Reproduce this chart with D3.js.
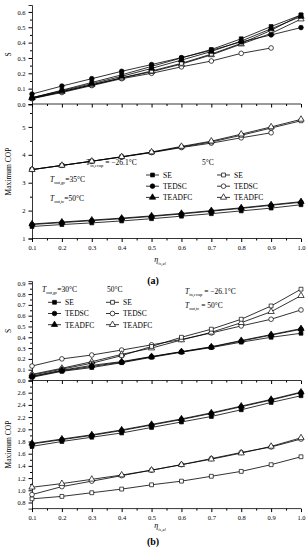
<!DOCTYPE html>
<html>
<head>
<meta charset="utf-8">
<script src="https://cdn.jsdelivr.net/npm/d3@7"></script>
<style>
  body { margin: 0; background: #fff; }
  svg { display: block; font-family: "Liberation Serif", "DejaVu Serif", serif; }
</style>
</head>
<body>
<svg id="chart" width="307" height="550"></svg>
<script>
// ─── Data ────────────────────────────────────────────────
const eta = [0.1, 0.2, 0.3, 0.4, 0.5, 0.6, 0.7, 0.8, 0.9, 1.0];
const xTicks = [0.1, 0.2, 0.3, 0.4, 0.5, 0.6, 0.7, 0.8, 0.9, 1.0];

// panel (a), S
const aS_SE_f     = [0.040, 0.090, 0.140, 0.190, 0.245, 0.300, 0.355, 0.425, 0.505, 0.580];
const aS_TEDSC_f  = [0.065, 0.117, 0.165, 0.213, 0.257, 0.302, 0.350, 0.405, 0.450, 0.498];
const aS_TEADFC_f = [0.042, 0.086, 0.132, 0.180, 0.232, 0.286, 0.342, 0.410, 0.490, 0.570];
const aS_SE_o     = [0.035, 0.080, 0.125, 0.170, 0.215, 0.265, 0.325, 0.395, 0.480, 0.580];
const aS_TEDSC_o  = [0.035, 0.075, 0.120, 0.165, 0.200, 0.242, 0.280, 0.330, 0.365];
const aS_TEADFC_o = [0.040, 0.080, 0.125, 0.170, 0.210, 0.260, 0.320, 0.390, 0.460, 0.553];

// panel (a), maximum COP
const aC_SE_f     = [1.43, 1.50, 1.56, 1.63, 1.71, 1.80, 1.89, 1.99, 2.09, 2.21];
const aC_TEDSC_f  = [1.50, 1.57, 1.64, 1.71, 1.79, 1.88, 1.98, 2.08, 2.19, 2.30];
const aC_TEADFC_f = [1.52, 1.59, 1.66, 1.73, 1.81, 1.90, 2.00, 2.10, 2.21, 2.32];
const aC_SE_o     = [3.47, 3.62, 3.77, 3.93, 4.09, 4.28, 4.46, 4.70, 4.96, 5.22];
const aC_TEDSC_o  = [3.47, 3.62, 3.77, 3.92, 4.08, 4.26, 4.42, 4.61, 4.79];
const aC_TEADFC_o = [3.47, 3.62, 3.77, 3.93, 4.10, 4.30, 4.49, 4.74, 5.00, 5.27];

// panel (b), S
const bS_SE_f     = [0.030, 0.085, 0.120, 0.165, 0.215, 0.262, 0.305, 0.355, 0.400, 0.437];
const bS_TEDSC_f  = [0.035, 0.090, 0.130, 0.170, 0.220, 0.265, 0.310, 0.365, 0.420, 0.474];
const bS_TEADFC_f = [0.040, 0.095, 0.140, 0.175, 0.222, 0.267, 0.312, 0.370, 0.425, 0.480];
const bS_SE_o     = [0.050, 0.105, 0.160, 0.230, 0.315, 0.400, 0.475, 0.567, 0.690, 0.845];
const bS_TEDSC_o  = [0.134, 0.200, 0.236, 0.282, 0.330, 0.380, 0.440, 0.505, 0.567, 0.653];
const bS_TEADFC_o = [0.057, 0.113, 0.174, 0.242, 0.300, 0.375, 0.446, 0.535, 0.637, 0.785];

// panel (b), maximum COP
const bC_SE_f     = [1.72, 1.80, 1.87, 1.94, 2.03, 2.12, 2.21, 2.32, 2.44, 2.55];
const bC_TEDSC_f  = [1.76, 1.83, 1.90, 1.98, 2.07, 2.16, 2.26, 2.37, 2.48, 2.60];
const bC_TEADFC_f = [1.77, 1.84, 1.91, 1.99, 2.08, 2.17, 2.27, 2.38, 2.49, 2.61];
const bC_SE_o     = [0.86, 0.90, 0.96, 1.02, 1.09, 1.15, 1.23, 1.31, 1.42, 1.55];
const bC_TEDSC_o  = [0.93, 1.06, 1.15, 1.24, 1.33, 1.42, 1.52, 1.62, 1.71, 1.84];
const bC_TEADFC_o = [1.05, 1.11, 1.18, 1.25, 1.33, 1.42, 1.51, 1.61, 1.72, 1.86];

const legendNames = ['SE', 'TEDSC', 'TEADFC'];

// ─── Setup ───────────────────────────────────────────────
const svg = d3.select('#chart');
const x = d3.scaleLinear([0.1, 1.0], [32, 301]);

const symbols = [d3.symbolSquare, d3.symbolCircle, d3.symbolTriangle];
const symSize = [15, 17, 17];

function drawSeries(g, y, values, kind, filled) {
  const pts = values.map((v, i) => [eta[i], v]);
  g.append('path')
    .datum(pts)
    .attr('fill', 'none')
    .attr('stroke', '#000')
    .attr('stroke-width', 0.8)
    .attr('d', d3.line().x(d => x(d[0])).y(d => y(d[1])));
  g.selectAll(null).data(pts).join('path')
    .attr('transform', d => `translate(${x(d[0])},${y(d[1])})`)
    .attr('d', d3.symbol(symbols[kind], symSize[kind]))
    .attr('fill', filled ? '#000' : '#fff')
    .attr('stroke', '#000')
    .attr('stroke-width', 0.7);
}

function drawPanel(cfg) {
  const g = svg.append('g');
  const { yTop, yBot } = cfg;

  // y axes (top and bottom sub-plots)
  [[yTop, cfg.topTicks, cfg.topMinor, cfg.topFmt], [yBot, cfg.botTicks, cfg.botMinor, cfg.botFmt]].forEach(([y, ticks, minor, fmt]) => {
    g.append('g')
      .attr('transform', 'translate(32,0)')
      .call(d3.axisLeft(y).tickValues(minor).tickSize(2).tickFormat(''))
      .call(a => a.select('.domain').remove());
    const ax = g.append('g')
      .attr('transform', 'translate(32,0)')
      .call(d3.axisLeft(y).tickValues(ticks).tickSize(3.5).tickPadding(3).tickFormat(d3.format(fmt)));
    ax.select('.domain').attr('stroke-width', 0.8);
    ax.selectAll('text').attr('font-size', 6.5).attr('font-family', '"Liberation Serif", serif');
  });

  // x axes: shared one between sub-plots, and the bottom one
  const xMinor = d3.range(0.15, 1.0, 0.1);
  [yTop.range()[0], yBot.range()[0]].forEach((yy, k) => {
    g.append('g')
      .attr('transform', `translate(0,${yy})`)
      .call(d3.axisBottom(x).tickValues(xMinor).tickSize(2).tickFormat(''))
      .call(a => a.select('.domain').remove());
    const ax = g.append('g')
      .attr('transform', `translate(0,${yy})`)
      .call(d3.axisBottom(x).tickValues(xTicks).tickSize(3.5).tickPadding(3)
        .tickFormat(k === 1 ? d3.format('.1f') : ''));
    ax.select('.domain').attr('stroke-width', 0.8).attr('d', `M32,0H301`);
    ax.selectAll('text').attr('font-size', 6.5).attr('font-family', '"Liberation Serif", serif');
  });

  // series
  cfg.topSeries.forEach(s => drawSeries(g, yTop, s[0], s[1], s[2]));
  cfg.botSeries.forEach(s => drawSeries(g, yBot, s[0], s[1], s[2]));

  // axis titles
  const yMidTop = (yTop.range()[0] + yTop.range()[1]) / 2;
  const yMidBot = (yBot.range()[0] + yBot.range()[1]) / 2;
  g.append('text').attr('transform', `translate(11,${yMidTop}) rotate(-90)`)
    .attr('text-anchor', 'middle').attr('font-size', 7.5).text('S');
  g.append('text').attr('transform', `translate(11,${yMidBot}) rotate(-90)`)
    .attr('text-anchor', 'middle').attr('font-size', 7.5).text('Maximum COP');

  const xl = g.append('text').attr('x', 160).attr('y', cfg.etaY)
    .attr('text-anchor', 'middle').attr('font-size', 8);
  xl.append('tspan').attr('font-style', 'italic').text('η');
  xl.append('tspan').attr('font-size', 4.5).attr('dy', 2.5).attr('font-style', 'italic').text('is,el');

  g.append('text').attr('x', 153).attr('y', cfg.labelY)
    .attr('text-anchor', 'middle').attr('font-size', 10).attr('font-weight', 'bold')
    .text(cfg.label);

  // legend
  legendNames.forEach((name, i) => {
    const ly = cfg.legY + i * 11.2;
    [[cfg.legX1, true], [cfg.legX2, false]].forEach(([lx, filled]) => {
      g.append('line').attr('x1', lx).attr('x2', lx + 13).attr('y1', ly).attr('y2', ly)
        .attr('stroke', '#000').attr('stroke-width', 0.8);
      g.append('path').attr('transform', `translate(${lx + 6.5},${ly})`)
        .attr('d', d3.symbol(symbols[i], symSize[i]))
        .attr('fill', filled ? '#000' : '#fff').attr('stroke', '#000').attr('stroke-width', 0.7);
      g.append('text').attr('x', lx + 17).attr('y', ly + 2.8).attr('font-size', 7.5).text(name);
    });
  });

  // annotations
  cfg.notes.forEach(n => {
    const t = g.append('text').attr('x', n.x).attr('y', n.y).attr('font-size', 7.5);
    if (n.sub) {
      t.append('tspan').attr('font-style', 'italic').text('T');
      t.append('tspan').attr('font-size', 4.5).attr('dy', 2.2).text(n.sub);
      t.append('tspan').attr('dy', -2.2).text(n.text);
    } else {
      t.text(n.text);
    }
  });
}

// ─── Panel (a) ───────────────────────────────────────────
drawPanel({
  yTop: d3.scaleLinear([0, 0.645], [104, 5]),
  yBot: d3.scaleLinear([1, 5.8], [238.5, 104.6]),
  topTicks: d3.range(0, 0.61, 0.1), topMinor: d3.range(0.05, 0.64, 0.1), topFmt: '.1f',
  botTicks: [1, 2, 3, 4, 5], botMinor: [1.5, 2.5, 3.5, 4.5, 5.5], botFmt: 'd',
  topSeries: [
    [aS_TEDSC_o, 1, false], [aS_TEADFC_o, 2, false], [aS_SE_o, 0, false],
    [aS_TEADFC_f, 2, true], [aS_TEDSC_f, 1, true], [aS_SE_f, 0, true]
  ],
  botSeries: [
    [aC_TEDSC_o, 1, false], [aC_SE_o, 0, false], [aC_TEADFC_o, 2, false],
    [aC_SE_f, 0, true], [aC_TEDSC_f, 1, true], [aC_TEADFC_f, 2, true]
  ],
  etaY: 262, labelY: 284, label: '(a)',
  legX1: 146, legX2: 217, legY: 175,
  notes: [
    { x: 86, y: 165, sub: 'in,evap', text: ' = −26.1°C' },
    { x: 202, y: 165, text: '5°C' },
    { x: 50, y: 182, sub: 'out,gc', text: '=35°C' },
    { x: 50, y: 201, sub: 'out,tc', text: '=50°C' }
  ]
});

// ─── Panel (b) ───────────────────────────────────────────
drawPanel({
  yTop: d3.scaleLinear([0, 0.92], [380.5, 281.1]),
  yBot: d3.scaleLinear([0.7, 2.8], [508.6, 380.5]),
  topTicks: d3.range(0, 0.91, 0.1), topMinor: d3.range(0.05, 0.91, 0.1), topFmt: '.1f',
  botTicks: d3.range(0.8, 2.61, 0.2), botMinor: d3.range(0.9, 2.71, 0.2), botFmt: '.1f',
  topSeries: [
    [bS_TEDSC_o, 1, false], [bS_TEADFC_o, 2, false], [bS_SE_o, 0, false],
    [bS_SE_f, 0, true], [bS_TEDSC_f, 1, true], [bS_TEADFC_f, 2, true]
  ],
  botSeries: [
    [bC_SE_o, 0, false], [bC_TEDSC_o, 1, false], [bC_TEADFC_o, 2, false],
    [bC_SE_f, 0, true], [bC_TEDSC_f, 1, true], [bC_TEADFC_f, 2, true]
  ],
  etaY: 528, labelY: 545, label: '(b)',
  legX1: 48, legX2: 106, legY: 302.3,
  notes: [
    { x: 42, y: 292, sub: 'out,gc', text: '=30°C' },
    { x: 107, y: 292, text: '50°C' },
    { x: 185, y: 294, sub: 'in,evap', text: ' = −26.1°C' },
    { x: 185, y: 308, sub: 'out,tc', text: ' = 50°C' }
  ]
});
</script>
</body>
</html>
